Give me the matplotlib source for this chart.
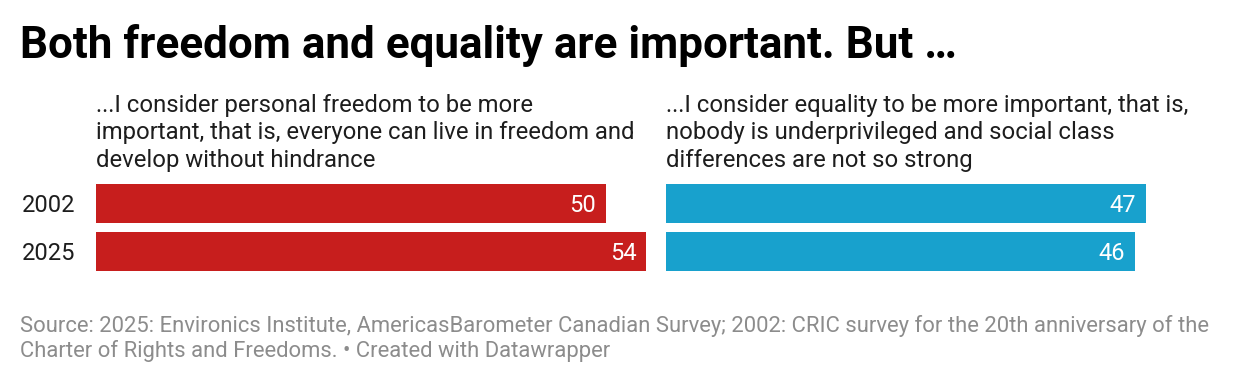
import matplotlib
matplotlib.use("Agg")
import matplotlib.pyplot as plt

W, H = 1240, 384
years = ["2002", "2025"]
freedom = [50, 54]
equality = [47, 46]
title = "Both freedom and equality are important. But …"
left_head = ["...I consider personal freedom to be more",
             "important, that is, everyone can live in freedom and",
             "develop without hindrance"]
right_head = ["...I consider equality to be more important, that is,",
              "nobody is underprivileged and social class",
              "differences are not so strong"]
footer = ["Source: 2025: Environics Institute, AmericasBarometer Canadian Survey; 2002: CRIC survey for the 20th anniversary of the",
          "Charter of Rights and Freedoms. • Created with Datawrapper"]
RED = "#c71e1d"
BLUE = "#18a1cd"

plt.rcParams['font.family'] = ['Roboto', 'DejaVu Sans']
fig = plt.figure(figsize=(W / 100, H / 100), dpi=100)

def fx(px):
    return px / W

def fy(py):
    return 1 - py / H

fig.text(fx(20), fy(58), title, fontsize=31.7, fontweight='bold', color='#000000', va='baseline', ha='left')

for x0, head in [(96, left_head), (666, right_head)]:
    for j, line in enumerate(head):
        fig.text(fx(x0), fy(112 + 27.5 * j), line, fontsize=17.2, color='#1d1d1d', va='baseline', ha='left')

# axes: rows centered at 203.5 and 251.5 px, 48px per unit
top_px = 179.5
bot_px = 275.5
vmax = 53.9
for x0, vals, col in [(96, freedom, RED), (666, equality, BLUE)]:
    ax = fig.add_axes([fx(x0), fy(bot_px), 550 / W, (bot_px - top_px) / H])
    ax.barh(range(len(years)), vals, height=0.81, color=col, left=0)
    ax.set_xlim(0, vmax)
    ax.set_ylim(len(years) - 0.5, -0.5)
    ax.axis('off')
    for i, v in enumerate(vals):
        ax.text(v - 0.98, i, str(v), color='white', fontsize=17, ha='right', va='center_baseline')

for i, y in enumerate(years):
    fig.text(fx(22), fy(203.5 + 48 * i), y, fontsize=17, color='#1d1d1d', ha='left', va='center_baseline')

for j, line in enumerate(footer):
    fig.text(fx(20), fy(332 + 25 * j), line, fontsize=15.8, color='#8c8c8c', ha='left', va='baseline')

fig.savefig("out.png", dpi=100, facecolor='white')
